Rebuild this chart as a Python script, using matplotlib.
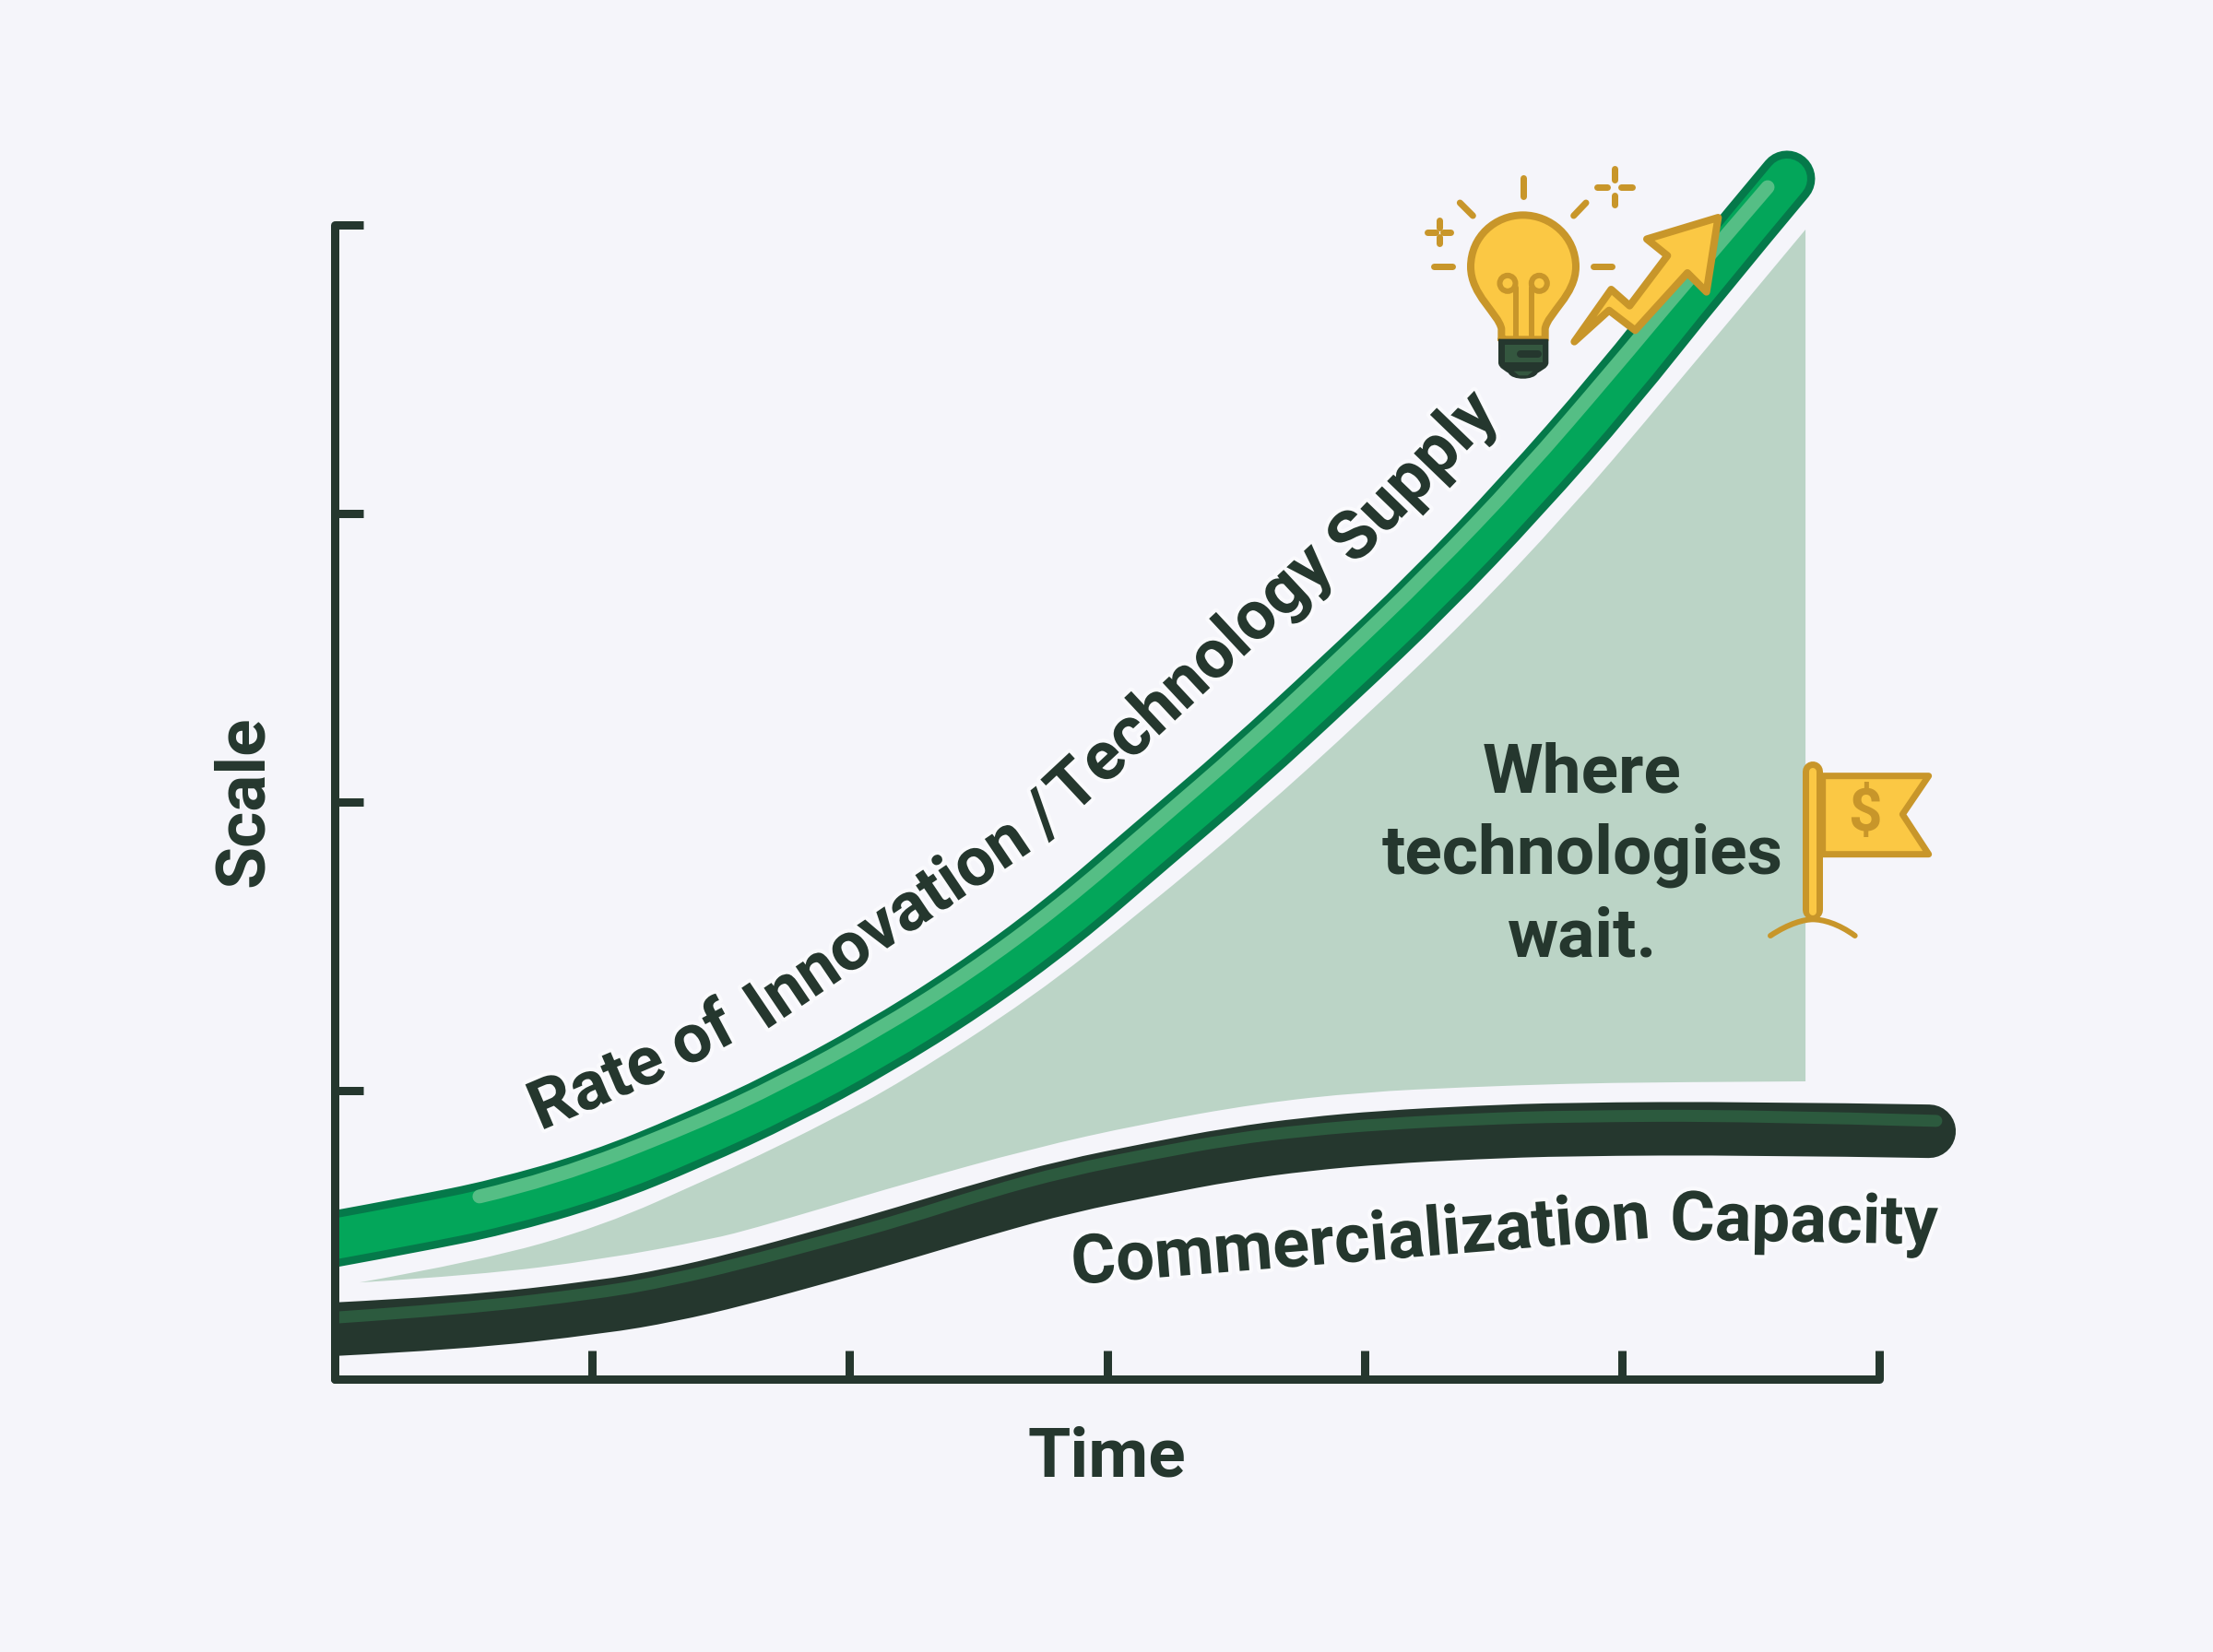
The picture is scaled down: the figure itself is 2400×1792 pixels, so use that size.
import matplotlib
matplotlib.use('Agg')
import matplotlib.pyplot as plt
import matplotlib.patheffects as pe
from matplotlib.path import Path
from matplotlib.patches import PathPatch, Polygon, Circle

plt.rcParams['font.family'] = ['Roboto', 'DejaVu Sans']

# values, x = time ticks, y = scale ticks
x_ticks = [1, 2, 3, 4, 5, 6]
y_ticks = [1, 2, 3, 4]

supply_t = [0, .312, .634, 1.028, 1.386, 1.744, 2.102, 2.461, 2.819, 3.177, 3.535, 3.893, 4.251, 4.610, 4.968, 5.326, 5.641]
supply_v = [.486, .537, .595, .695, .825, .972, 1.145, 1.345, 1.578, 1.853, 2.125, 2.419, 2.722, 3.058, 3.422, 3.824, 4.160]
supply_hi_t = [.562, .849, 1.386, 1.744, 2.102, 2.461, 2.819, 3.177, 3.535, 3.893, 4.251, 4.610, 4.968, 5.218, 5.566]
supply_hi_v = [.633, .693, .880, 1.030, 1.205, 1.406, 1.642, 1.917, 2.192, 2.489, 2.796, 3.131, 3.502, 3.770, 4.131]

capacity_t = [0, .491, 1.039, 1.3, 1.565, 1.923, 2.206, 2.532, 2.844, 3.177, 3.485, 3.78, 4.072, 4.430, 4.789, 5.505, 6.193]
capacity_v = [.173, .195, .250, .290, .345, .432, .505, .592, .668, .728, .780, .815, .838, .855, .866, .869, .859]
capacity_hi_t = [.014, .491, 1.039, 1.3, 1.565, 1.923, 2.206, 2.532, 2.844, 3.177, 3.485, 3.78, 4.072, 4.430, 4.789, 5.505, 6.221]
capacity_hi_v = [.214, .243, .300, .343, .398, .483, .553, .646, .722, .782, .832, .863, .884, .901, .911, .914, .895]

gap_t = [.097, .562, 1.039, 1.465, 1.637, 1.913, 2.206, 2.711, 3.141, 3.582, 3.997, 4.398, 4.789, 5.147, 5.713]
gap_top = [.335, .409, .530, .700, .770, .891, 1.032, 1.323, 1.626, 1.955, 2.291, 2.633, 3.003, 3.377, 3.984]
gap_bottom = [.335, .361, .415, .485, .525, .597, .675, .800, .885, .955, .995, 1.012, 1.024, 1.029, 1.032]

# curved labels go word by word: text, x px, y px, angle
supply_words = [('Rate', 656, 1197, 23), ('of', 772, 1143, 28), ('Innovation', 975, 1020, 34),
                ('/', 1146, 902, 38), ('Technology', 1306, 752, 43), ('Supply', 1548, 533, 46)]
capacity_words = [('Commercialization', 1477, 1368, 4.6), ('Capacity', 1956, 1347, -1)]
wait_lines = [('Where', 860), ('technologies', 948), ('wait.', 1037)]

BG = '#F5F5FA'
INK = '#25372E'
GREEN = '#03A65A'
GREEN_EDGE = '#05794A'
GREEN_HI = '#55BE85'
DARK_HI = '#2C5A3E'
FILL = '#BBD4C6'
GOLD = '#FBC844'
GOLD_EDGE = '#C8962A'
PX = 72 / 200  # points per output pixel
M, L, C, Q = Path.MOVETO, Path.LINETO, Path.CURVE4, Path.CURVE3


def smooth(t, v):
    # quadratic pieces with the read points as control points, so the wide strokes show no corners
    verts = [(t[0], v[0])]
    codes = [M]
    for i in range(1, len(t) - 2):
        verts += [(t[i], v[i]), ((t[i] + t[i + 1]) / 2, (v[i] + v[i + 1]) / 2)]
        codes += [Q, Q]
    verts += [(t[-2], v[-2]), (t[-1], v[-1])]
    codes += [Q, Q]
    return verts, codes


def band(t, v, color, w):
    verts, codes = smooth(t, v)
    ax.add_patch(PathPatch(Path(verts, codes), fc='none', ec=color, lw=w * PX, capstyle='round',
                           joinstyle='round', zorder=2))


fig = plt.figure(figsize=(12, 8.96), dpi=200, facecolor=BG)
ax = fig.add_axes([363 / 2400, (1792 - 1496) / 1792, 1777 / 2400, 1345 / 1792])
ax.set_facecolor('none')
ax.set_xlim(0, 1777 / 279.2)
ax.set_ylim(0, 1345 / 313)

top_verts, top_codes = smooth(gap_t, gap_top)
low_verts, low_codes = smooth(gap_t[::-1], gap_bottom[::-1])
low_codes[0] = L
ax.add_patch(PathPatch(Path(top_verts + low_verts, top_codes + low_codes), fc=FILL, ec='none', lw=0, zorder=1))

band(capacity_t, capacity_v, INK, 58)
band(capacity_hi_t, capacity_hi_v, DARK_HI, 13)
band(supply_t, supply_v, GREEN_EDGE, 61)
band(supply_t, supply_v, GREEN, 44)
band(supply_hi_t, supply_hi_v, GREEN_HI, 15)

for s in ['top', 'right']:
    ax.spines[s].set_visible(False)
ax.spines['left'].set_bounds(0, 4)
ax.spines['bottom'].set_bounds(0, 6)
for s in ['left', 'bottom']:
    ax.spines[s].set_linewidth(9 * PX)
    ax.spines[s].set_color(INK)
    ax.spines[s].set_capstyle('round')
ax.set_xticks(x_ticks)
ax.set_yticks(y_ticks)
ax.tick_params(direction='in', length=31 * PX, width=9 * PX, color=INK, labelbottom=False, labelleft=False)

ax.set_xlabel('Time', fontsize=27, fontweight='bold', color=INK, va='center')
ax.xaxis.set_label_coords(.471, -.0637)
ax.set_ylabel('Scale', fontsize=27, fontweight='bold', color=INK, va='center')
ax.yaxis.set_label_coords(-.0551, .466)

# overlay in picture pixels for the labels and the icons
ov = fig.add_axes([0, 0, 1, 1])
ov.set_xlim(0, 2400)
ov.set_ylim(1792, 0)
ov.axis('off')

halo = [pe.withStroke(linewidth=3, foreground='#FAFAFD')]
for word, x, y, ang in supply_words + capacity_words:
    ov.text(x, y, word, fontsize=26.7, fontweight='bold', color=INK, rotation=ang, rotation_mode='anchor',
            ha='center', va='baseline', path_effects=halo)
for line, y in wait_lines:
    ov.text(1716, y, line, fontsize=27, fontweight='bold', color=INK, ha='center', va='baseline')


def bulb_xy(pts):
    return [(1500 + x / 3, 130 + y / 3) for x, y in pts]


def flag_xy(pts):
    return [(1850 + x / 3, 780 + y / 3) for x, y in pts]


def stroke(pts, color=GOLD_EDGE, w=7, z=5):
    xs, ys = zip(*pts)
    ov.plot(xs, ys, color=color, lw=w * PX, solid_capstyle='round', solid_joinstyle='round', zorder=z)


def curve(pts, codes, fc='none', ec=GOLD_EDGE, w=8, z=5):
    ov.add_patch(PathPatch(Path(pts, codes), facecolor=fc, edgecolor=ec, lw=w * PX, capstyle='round',
                           joinstyle='round', zorder=z))


# bulb
curve(bulb_xy([(385, 715), (385, 680), (375, 630), (285, 570), (285, 478), (285, 380), (365, 310), (455, 310),
               (545, 310), (627, 380), (627, 478), (627, 570), (535, 630), (527, 680), (527, 715), (385, 715)]),
      [M, L, C, C, C, C, C, C, C, C, C, C, C, C, L, L], fc=GOLD)
ov.add_patch(Circle(bulb_xy([(405, 532)])[0], 8.5, fc='none', ec=GOLD_EDGE, lw=6 * PX, zorder=5))
ov.add_patch(Circle(bulb_xy([(508, 532)])[0], 8.5, fc='none', ec=GOLD_EDGE, lw=6 * PX, zorder=5))
stroke(bulb_xy([(432, 715), (432, 545)]), w=6)
stroke(bulb_xy([(482, 715), (482, 545)]), w=6)
curve(bulb_xy([(378, 716), (535, 716), (535, 790), (535, 805), (510, 815), (500, 822), (490, 845), (420, 845), (410, 822),
               (400, 815), (378, 805), (378, 790), (378, 716)]),
      [M, L, L, C, C, C, C, C, C, C, C, C, L], fc=INK, ec=INK, w=2, z=6)
ov.add_patch(Polygon(bulb_xy([(395, 733), (518, 733), (518, 788), (395, 788)]), closed=True, fc='#34573F', ec='none', zorder=6))
ov.add_patch(Polygon(bulb_xy([(425, 818), (488, 818), (470, 832), (442, 832)]), closed=True, fc='#34573F', ec='none', zorder=6))
stroke(bulb_xy([(447, 762), (505, 762)]), color=INK, w=8, z=7)
for seg in [[(455, 190), (455, 250)], [(250, 270), (292, 312)], [(660, 270), (620, 312)], [(165, 477), (225, 477)],
            [(685, 477), (745, 477)], [(752, 160), (752, 195)], [(752, 245), (752, 275)], [(695, 218), (730, 218)],
            [(775, 218), (810, 218)], [(182, 328), (182, 350)], [(182, 380), (182, 403)], [(145, 365), (170, 365)],
            [(195, 365), (220, 365)]]:
    stroke(bulb_xy(seg))

# arrow on the green band
ov.add_patch(Polygon(bulb_xy([(622, 722), (742, 552), (802, 605), (925, 442), (858, 388), (1090, 318), (1052, 560),
                              (990, 498), (820, 685), (735, 620)]),
                     closed=True, fc=GOLD, ec=GOLD_EDGE, lw=8 * PX, joinstyle='round', zorder=5))

# flag
ov.add_patch(Polygon(flag_xy([(380, 185), (725, 185), (640, 310), (725, 440), (380, 440)]), closed=True, fc=GOLD,
                     ec=GOLD_EDGE, lw=7 * PX, joinstyle='round', zorder=5))
stroke(flag_xy([(348, 172), (348, 622)]), w=22)
stroke(flag_xy([(348, 172), (348, 628)]), color=GOLD, w=8)
curve(flag_xy([(210, 705), (270, 665), (320, 652), (348, 652), (380, 652), (430, 665), (485, 705)]), [M, C, C, C, C, C, C], w=6)
ov.text(2022, 884, '$', fontsize=23, fontweight='bold', color=GOLD_EDGE, ha='center', va='center', zorder=6)

fig.savefig('out.png', dpi=200, facecolor=BG)
